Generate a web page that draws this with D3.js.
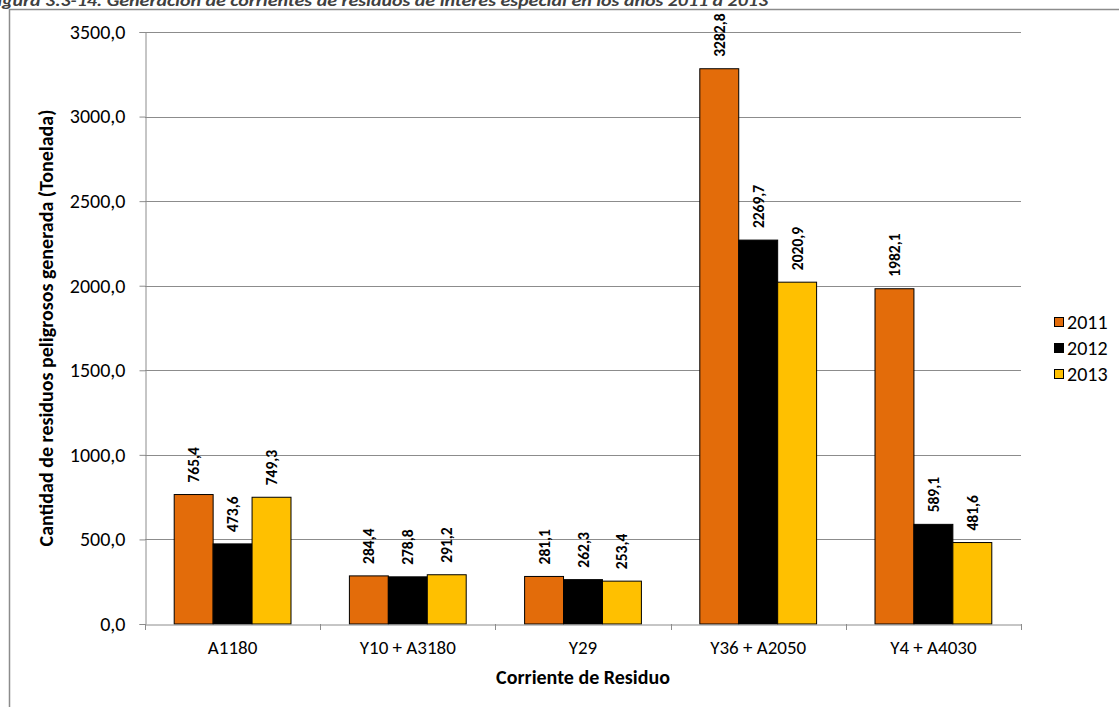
<!DOCTYPE html>
<html>
<head>
<meta charset="utf-8">
<script src="https://cdn.jsdelivr.net/npm/d3@7"></script>
<style>
  html, body { margin: 0; padding: 0; background: #fff; }
  svg { display: block; font-family: Carlito, "Liberation Sans", Arial, sans-serif; }
</style>
</head>
<body>
<svg id="chart" width="1119" height="707"></svg>
<script>
// Waste streams and annual generation (tonnes)
const categories = ["A1180", "Y10 + A3180", "Y29", "Y36 + A2050", "Y4 + A4030"];
const years = ["2011", "2012", "2013"];
const values2011 = [765.4, 284.4, 281.1, 3282.8, 1982.1];
const values2012 = [473.6, 278.8, 262.3, 2269.7, 589.1];
const values2013 = [749.3, 291.2, 253.4, 2020.9, 481.6];
const yTicks = [0, 500, 1000, 1500, 2000, 2500, 3000, 3500];
const colors = ["#E36C0A", "#000000", "#FFC000"];

const series = [values2011, values2012, values2013];
const rows = categories.map((c, i) => ({ cat: c, vals: series.map((s, j) => ({ year: years[j], v: s[i], j })) }));

const loc = d3.formatLocale({ decimal: ",", thousands: "", grouping: [3], currency: ["", ""] });
const fmt = loc.format(".1f");

const svg = d3.select("#chart");
const plot = { left: 145, right: 1021, top: 32, bottom: 624 };
const FONT = "Carlito, 'Liberation Sans', Arial, sans-serif";

// Caption (clipped at the top edge)
svg.append("text")
  .attr("x", 768).attr("y", 6)
  .attr("text-anchor", "end")
  .attr("font-size", 17).attr("font-weight", "bold").attr("font-style", "italic")
  .attr("fill", "#404040")
  .attr("textLength", 780).attr("lengthAdjust", "spacingAndGlyphs")
  .text("Figura 3.3-14. Generación de corrientes de residuos de interés especial en los años 2011 a 2013");

// Chart frame
svg.append("rect")
  .attr("x", 9.5).attr("y", 9.5).attr("width", 1200).attr("height", 800)
  .attr("fill", "none").attr("stroke", "#8c8c8c").attr("stroke-width", 1.5);

const x0 = d3.scaleBand().domain(categories).range([plot.left, plot.right]).paddingInner(0).paddingOuter(0);
const groupW = x0.bandwidth() * 3 / 4.5;
const x1 = d3.scaleBand().domain([0, 1, 2]).range([0, groupW]).padding(0);
const y = d3.scaleLinear().domain([0, 3500]).range([plot.bottom, plot.top]);

// Horizontal gridlines
svg.append("g").selectAll("line").data(yTicks.filter(d => d > 0)).join("line")
  .attr("x1", plot.left).attr("x2", plot.right)
  .attr("y1", d => Math.round(y(d)) + 0.5).attr("y2", d => Math.round(y(d)) + 0.5)
  .attr("stroke", "#8c8c8c").attr("stroke-width", 1);

// Y axis
const yAxis = svg.append("g").attr("transform", `translate(${plot.left + 0.5},0)`)
  .call(d3.axisLeft(y).tickValues(yTicks).tickFormat(fmt).tickSize(6).tickPadding(14));
yAxis.select(".domain").attr("stroke", "#8c8c8c");
yAxis.selectAll(".tick line").attr("stroke", "#8c8c8c");
yAxis.selectAll(".tick text").attr("font-size", 20).attr("fill", "#000").attr("font-family", FONT);

// Bars
const groups = svg.append("g").selectAll("g").data(rows).join("g")
  .attr("transform", d => `translate(${x0(d.cat) + (x0.bandwidth() - groupW) / 2},0)`);

groups.selectAll("rect").data(d => d.vals).join("rect")
  .attr("x", d => x1(d.j)).attr("width", x1.bandwidth())
  .attr("y", d => y(d.v)).attr("height", d => y(0) - y(d.v))
  .attr("fill", d => colors[d.j]).attr("stroke", "#000").attr("stroke-width", 1);

// Value labels (rotated)
groups.selectAll("text").data(d => d.vals).join("text")
  .attr("transform", d => `translate(${x1(d.j) + x1.bandwidth() / 2 + 5.5},${y(d.v) - 12}) rotate(-90)`)
  .attr("text-anchor", "start")
  .attr("font-size", 15.5).attr("font-weight", "bold").attr("fill", "#000")
  .text(d => fmt(d.v));

// X axis
const xAxis = svg.append("g").attr("transform", `translate(0,${plot.bottom + 0.5})`)
  .call(d3.axisBottom(x0).tickSize(0).tickPadding(16));
xAxis.select(".domain").attr("stroke", "#8c8c8c");
xAxis.selectAll(".tick text").attr("font-size", 19).attr("fill", "#000").attr("font-family", FONT);
// Category boundary ticks
const bounds = categories.map(c => x0(c)).concat([plot.right]);
svg.append("g").selectAll("line").data(bounds).join("line")
  .attr("x1", d => Math.round(d) + 0.5).attr("x2", d => Math.round(d) + 0.5)
  .attr("y1", plot.bottom).attr("y2", plot.bottom + 6)
  .attr("stroke", "#8c8c8c");

// Axis titles
svg.append("text")
  .attr("x", (plot.left + plot.right) / 2).attr("y", 684)
  .attr("text-anchor", "middle").attr("font-size", 20).attr("font-weight", "bold")
  .text("Corriente de Residuo");

svg.append("text")
  .attr("transform", `translate(53,${(plot.top + plot.bottom) / 2}) rotate(-90)`)
  .attr("text-anchor", "middle").attr("font-size", 20).attr("font-weight", "bold")
  .text("Cantidad de residuos peligrosos generada (Tonelada)");

// Legend
const legend = svg.append("g").selectAll("g").data(years).join("g")
  .attr("transform", (d, i) => `translate(1054,${322 + i * 26})`);
legend.append("rect")
  .attr("x", 0.5).attr("y", -4.5).attr("width", 9).attr("height", 9)
  .attr("fill", (d, i) => colors[i]).attr("stroke", "#000").attr("stroke-width", 1);
legend.append("text")
  .attr("x", 13).attr("y", 7)
  .attr("font-size", 20).attr("fill", "#000")
  .text(d => d);
</script>
</body>
</html>
